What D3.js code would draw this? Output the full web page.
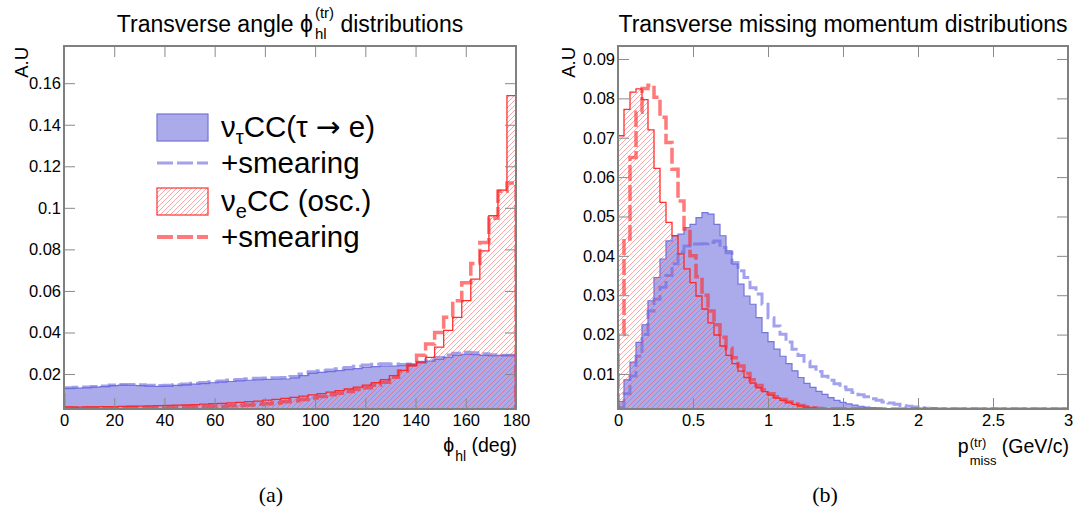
<!DOCTYPE html>
<html><head><meta charset="utf-8">
<script src="https://cdn.jsdelivr.net/npm/d3@7"></script>
<style>
html,body{margin:0;padding:0;background:#fff;}
svg{display:block;}
text{font-family:"Liberation Sans",Arial,Helvetica,sans-serif;fill:#000;}
</style></head>
<body>
<svg id="c" width="1074" height="511"></svg>
<script>
// ---------------- DATA ----------------
// Panel (a): transverse angle phi_hl, 50 bins of 3.6 deg over [0,180]
const phiRange = [0, 180];
const phiNBins = 50;
const phiTicks = [0, 20, 40, 60, 80, 100, 120, 140, 160, 180];
const phiYTicks = [0.02, 0.04, 0.06, 0.08, 0.10, 0.12, 0.14, 0.16];
const phiYRange = [0.00317, 0.1779];
const phiTau = [0.0131,0.0132,0.0134,0.0137,0.0140,0.0144,0.0147,0.0146,0.0144,0.0142,
  0.0141,0.0142,0.0145,0.0148,0.0151,0.0154,0.0158,0.0161,0.0164,0.0167,
  0.0170,0.0172,0.0174,0.0175,0.0176,0.0180,0.0192,0.0203,0.0208,0.0212,
  0.0216,0.0221,0.0226,0.0232,0.0236,0.0238,0.0238,0.0240,0.0245,0.0255,
  0.0262,0.0270,0.0280,0.0290,0.0295,0.0293,0.0290,0.0288,0.0290,0.0291];
const phiTauSmear = [0.0134,0.0136,0.0137,0.0140,0.0143,0.0147,0.0150,0.0150,0.0148,0.0146,
  0.0145,0.0146,0.0149,0.0152,0.0156,0.0159,0.0163,0.0167,0.0171,0.0174,
  0.0177,0.0180,0.0181,0.0182,0.0183,0.0188,0.0200,0.0211,0.0216,0.0220,
  0.0225,0.0231,0.0237,0.0243,0.0247,0.0249,0.0248,0.0246,0.0248,0.0257,
  0.0268,0.0280,0.0292,0.0300,0.0305,0.0303,0.0298,0.0293,0.0290,0.0290];
const phiE = [0.0042,0.0041,0.0042,0.0042,0.0043,0.0043,0.0044,0.0045,0.0046,0.0047,
  0.0048,0.0049,0.0050,0.0051,0.0053,0.0055,0.0057,0.0059,0.0061,0.0064,
  0.0067,0.0070,0.0074,0.0078,0.0083,0.0088,0.0094,0.0100,0.0106,0.0113,
  0.0120,0.0128,0.0137,0.0147,0.0158,0.0173,0.0192,0.0218,0.0240,0.0258,
  0.0280,0.0330,0.0410,0.0473,0.0553,0.0657,0.0793,0.0962,0.1085,0.1540];
const phiESmear = [0.0037,0.0037,0.0037,0.0037,0.0038,0.0038,0.0038,0.0039,0.0039,0.0039,
  0.0040,0.0040,0.0041,0.0041,0.0042,0.0043,0.0044,0.0045,0.0047,0.0049,
  0.0051,0.0054,0.0057,0.0061,0.0066,0.0071,0.0078,0.0085,0.0092,0.0100,
  0.0108,0.0116,0.0125,0.0134,0.0146,0.0160,0.0185,0.0215,0.0245,0.0290,
  0.0345,0.0400,0.0473,0.0553,0.0640,0.0732,0.0833,0.0950,0.1080,0.1120];

// Panel (b): transverse missing momentum, 75 bins of 0.04 GeV/c over [0,3]
const pRange = [0, 3];
const pNBins = 75;
const pTicks = [0, 0.5, 1, 1.5, 2, 2.5, 3];
const pYTicks = [0.01, 0.02, 0.03, 0.04, 0.05, 0.06, 0.07, 0.08, 0.09];
const pYRange = [0.0011, 0.0933];
const pTau = [0.0030,0.0085,0.0130,0.0180,0.0225,0.0286,0.0345,0.0392,0.0438,0.0451,
  0.0455,0.0472,0.0480,0.0497,0.0510,0.0506,0.0480,0.0451,0.0413,0.0379,
  0.0328,0.0298,0.0277,0.0243,0.0205,0.0182,0.0163,0.0145,0.0126,0.0108,
  0.0091,0.0076,0.0066,0.0056,0.0048,0.0040,0.0033,0.0028,0.0024,0.0021,
  0.0018,0.0016,0.0014,0.0013,0.0012,0.0011,0.0010,0.0009,0.0008,0.0007,
  0.0006,0.0005,0.0005,0.0004,0.0004,0.0003,0.0003,0.0002,0.0002,0.0002,
  0.0001,0.0001,0.0001,0.0001,0.0001,0.0001,0.0001,0.0001,0.0001,0.0001,
  0.0001,0.0001,0.0001,0.0001,0.0001];
const pTauSmear = [0.0015,0.0050,0.0095,0.0145,0.0200,0.0260,0.0290,0.0320,0.0350,0.0380,
  0.0410,0.0425,0.0430,0.0430,0.0431,0.0434,0.0438,0.0421,0.0408,0.0383,
  0.0362,0.0345,0.0319,0.0303,0.0277,0.0243,0.0222,0.0201,0.0181,0.0163,
  0.0147,0.0132,0.0118,0.0106,0.0094,0.0084,0.0075,0.0067,0.0060,0.0053,
  0.0047,0.0042,0.0037,0.0033,0.0029,0.0026,0.0023,0.0020,0.0018,0.0016,
  0.0014,0.0013,0.0012,0.0011,0.0010,0.0009,0.0008,0.0007,0.0006,0.0005,
  0.0004,0.0004,0.0003,0.0003,0.0002,0.0002,0.0002,0.0001,0.0001,0.0001,
  0.0001,0.0001,0.0001,0.0001,0.0001];
const pE = [0.0705,0.0772,0.0816,0.0824,0.0797,0.0720,0.0622,0.0536,0.0485,0.0451,
  0.0405,0.0367,0.0332,0.0298,0.0265,0.0230,0.0199,0.0171,0.0147,0.0126,
  0.0107,0.0091,0.0077,0.0065,0.0055,0.0046,0.0039,0.0033,0.0028,0.0023,
  0.0019,0.0016,0.0014,0.0012,0.0011,0.0010,0.0009,0.0008,0.0007,0.0006,
  0.0005,0.0005,0.0004,0.0004,0.0003,0.0003,0.0002,0.0002,0.0002,0.0001,
  0.0001,0.0001,0.0001,0.0001,0.0001,0.0001,0.0001,0.0001,0.0001,0.0001,
  0.0001,0.0001,0.0001,0.0001,0.0001,0.0001,0.0001,0.0001,0.0001,0.0001,
  0.0001,0.0001,0.0001,0.0001,0.0001];
const pESmear = [0.0200,0.0443,0.0650,0.0765,0.0825,0.0833,0.0803,0.0752,0.0688,0.0620,
  0.0539,0.0468,0.0400,0.0347,0.0300,0.0260,0.0225,0.0193,0.0165,0.0141,
  0.0120,0.0101,0.0085,0.0071,0.0060,0.0050,0.0042,0.0035,0.0029,0.0024,
  0.0020,0.0017,0.0014,0.0012,0.0011,0.0010,0.0009,0.0008,0.0007,0.0006,
  0.0005,0.0005,0.0004,0.0004,0.0003,0.0003,0.0002,0.0002,0.0002,0.0001,
  0.0001,0.0001,0.0001,0.0001,0.0001,0.0001,0.0001,0.0001,0.0001,0.0001,
  0.0001,0.0001,0.0001,0.0001,0.0001,0.0001,0.0001,0.0001,0.0001,0.0001,
  0.0001,0.0001,0.0001,0.0001,0.0001];

const legendLabels = [
  {kind:"fill", segs:[{t:"\u03BD"}, {sub:"\u03C4"}, {t:"CC(\u03C4\u00A0"}, {t:"\u2192", fam:"DejaVu Sans"}, {t:"\u00A0e)"}]},
  {kind:"blueLine", segs:[{t:"+smearing"}]},
  {kind:"hatch", segs:[{t:"\u03BD"}, {sub:"e"}, {t:"CC (osc.)"}]},
  {kind:"redLine", segs:[{t:"+smearing"}]}
];

// ---------------- STYLE ----------------
const C = {
  blueFill:"#ababeb", blueEdge:"#7474dc",
  blueDash:"rgba(105,105,228,0.62)",
  redLine:"rgba(255,30,30,0.92)", redDash:"rgba(255,40,40,0.62)",
  hatch:"rgba(255,70,70,0.6)", frame:"#808080", tick:"#8a8a8a"
};
const FONT = '"Liberation Sans", Arial, Helvetica, sans-serif';
const svg = d3.select("#c");
const defs = svg.append("defs");
const pat = defs.append("pattern").attr("id","hatch").attr("patternUnits","userSpaceOnUse")
  .attr("width",5).attr("height",5);
pat.append("path").attr("d","M-1,1 l2,-2 M0,5 l5,-5 M4,6 l2,-2")
  .attr("stroke",C.hatch).attr("stroke-width",0.8);

function rich(parent, x, y, anchor, segs) {
  const g = parent.append("g");
  let cx = 0;
  segs.forEach(s => {
    if (s.stack) {
      let w = 0;
      s.stack.forEach(p => {
        const t = g.append("text").attr("x", cx + (s.pad||0)).attr("y", p.dy)
          .style("font-size", p.size + "px").text(p.t);
        w = Math.max(w, t.node().getComputedTextLength());
      });
      cx += w + (s.pad||0) + (s.after||0);
    } else {
      const t = g.append("text").attr("x", cx).attr("y", s.dy || 0)
        .style("font-size", s.size + "px").text(s.t);
      if (s.fam) t.style("font-family", `"${s.fam}", sans-serif`);
      cx += t.node().getComputedTextLength();
    }
  });
  const off = anchor === "middle" ? -cx / 2 : anchor === "end" ? -cx : 0;
  g.attr("transform", `translate(${x + off},${y})`);
  return g;
}

function panel(cfg) {
  const x = d3.scaleLinear().domain(cfg.xRange).range([cfg.left, cfg.right]);
  const y = d3.scaleLinear().domain(cfg.yRange).range([cfg.bottom, cfg.top]).clamp(true);
  const w = (cfg.xRange[1] - cfg.xRange[0]) / cfg.nBins;
  const lo = cfg.yRange[0];
  const clipId = "clip" + cfg.id;
  defs.append("clipPath").attr("id", clipId).append("rect")
    .attr("x", cfg.left).attr("y", cfg.top)
    .attr("width", cfg.right - cfg.left).attr("height", cfg.bottom - cfg.top);

  const pts = vals => {
    const p = [[cfg.xRange[0], lo]];
    vals.forEach((v, i) => p.push([cfg.xRange[0] + i * w, v]));
    p.push([cfg.xRange[0] + vals.length * w, vals[vals.length - 1]]);
    p.push([cfg.xRange[0] + vals.length * w, lo]);
    return p;
  };
  const line = d3.line().x(d => x(d[0])).y(d => y(d[1])).curve(d3.curveStepAfter);
  const area = d3.area().x(d => x(d[0])).y0(y(lo)).y1(d => y(d[1])).curve(d3.curveStepAfter);

  const g = svg.append("g").attr("clip-path", `url(#${clipId})`);
  g.append("path").attr("d", area(pts(cfg.tau))).attr("fill", C.blueFill).attr("stroke", "none");
  g.append("path").attr("d", line(pts(cfg.tau))).attr("fill", "none")
    .attr("stroke", C.blueEdge).attr("stroke-width", 1.2);
  g.append("path").attr("d", line(pts(cfg.tauS))).attr("fill", "none")
    .attr("stroke", C.blueDash).attr("stroke-width", 3).attr("stroke-dasharray", "16,4");
  g.append("path").attr("d", area(pts(cfg.e))).attr("fill", "url(#hatch)").attr("stroke", "none");
  g.append("path").attr("d", line(pts(cfg.e))).attr("fill", "none")
    .attr("stroke", C.redLine).attr("stroke-width", 1.3);
  g.append("path").attr("d", line(pts(cfg.eS))).attr("fill", "none")
    .attr("stroke", C.redDash).attr("stroke-width", 3.5).attr("stroke-dasharray", "16,4");

  const styleAx = sel => {
    sel.select(".domain").remove();
    sel.selectAll(".tick line").attr("stroke", C.tick).attr("stroke-width", 1);
    sel.selectAll(".tick text").style("font-size", "16.5px").style("font-family", FONT).attr("fill", "#000");
  };
  svg.append("g").attr("transform", `translate(0,${cfg.bottom})`)
    .call(d3.axisBottom(x).tickValues(cfg.xTicks).tickSize(-11).tickPadding(5).tickFormat(d3.format("~g")))
    .call(styleAx);
  svg.append("g").attr("transform", `translate(0,${cfg.top})`)
    .call(d3.axisTop(x).tickValues(cfg.xTicks).tickSize(-11).tickFormat(""))
    .call(styleAx);
  svg.append("g").attr("transform", `translate(${cfg.left},0)`)
    .call(d3.axisLeft(y).tickValues(cfg.yTicks).tickSize(-11).tickPadding(3).tickFormat(d3.format("~g")))
    .call(styleAx);
  svg.append("g").attr("transform", `translate(${cfg.right},0)`)
    .call(d3.axisRight(y).tickValues(cfg.yTicks).tickSize(-11).tickFormat(""))
    .call(styleAx);
  svg.append("rect").attr("x", cfg.left).attr("y", cfg.top)
    .attr("width", cfg.right - cfg.left).attr("height", cfg.bottom - cfg.top)
    .attr("fill", "none").attr("stroke", C.frame).attr("stroke-width", 2);

  svg.append("text").attr("transform", `translate(${cfg.yTitleX},${cfg.top + 1}) rotate(-90)`)
    .attr("text-anchor", "end").style("font-size", "18.5px").text("A.U");
  return {x, y};
}

panel({id:"a", left:64, right:516, top:46, bottom:409, yTitleX:27.5,
  xRange:phiRange, yRange:phiYRange, nBins:phiNBins, xTicks:phiTicks, yTicks:phiYTicks,
  tau:phiTau, tauS:phiTauSmear, e:phiE, eS:phiESmear});
panel({id:"b", left:618, right:1068, top:46, bottom:409, yTitleX:574.5,
  xRange:pRange, yRange:pYRange, nBins:pNBins, xTicks:pTicks, yTicks:pYTicks,
  tau:pTau, tauS:pTauSmear, e:pE, eS:pESmear});

svg.selectAll(".tick text").each(function(){
  const t = d3.select(this);
  if (t.attr("y") && +t.attr("y") > 0) t.attr("dy", "0.71em");
  else t.attr("dy", "0.32em");
});

// titles
rich(svg, 290, 32, "middle", [
  {t:"Transverse angle \u03D5", size:23},
  {stack:[{t:"(tr)", size:15, dy:-14}, {t:"hl", size:15, dy:7}], pad:2},
  {t:"\u00A0distributions", size:23}
]);
rich(svg, 843, 32, "middle", [{t:"Transverse missing momentum distributions", size:23}]);

// x-axis titles
rich(svg, 517, 452, "end", [
  {t:"\u03D5", size:19.5},
  {stack:[{t:"hl", size:14, dy:9}], pad:1},
  {t:"\u00A0(deg)", size:19.5}
]);
rich(svg, 1069, 453, "end", [
  {t:"p", size:19.5},
  {stack:[{t:"(tr)", size:13, dy:-6}, {t:"miss", size:13, dy:12}], pad:1},
  {t:"\u00A0(GeV/c)", size:19.5}
]);

// captions
svg.append("text").attr("x", 271).attr("y", 502).attr("text-anchor","middle")
  .style("font-family",'"Liberation Serif", "DejaVu Serif", serif').style("font-size","22px").text("(a)");
svg.append("text").attr("x", 825).attr("y", 502).attr("text-anchor","middle")
  .style("font-family",'"Liberation Serif", "DejaVu Serif", serif').style("font-size","22px").text("(b)");

// legend
const legY = [127, 163, 201, 237];
const lg = svg.append("g");
legendLabels.forEach((L, i) => {
  const cy = legY[i];
  if (L.kind === "fill") {
    lg.append("rect").attr("x",157).attr("y",cy-13).attr("width",51).attr("height",27)
      .attr("fill",C.blueFill).attr("stroke",C.blueEdge).attr("stroke-width",1.2);
  } else if (L.kind === "hatch") {
    lg.append("rect").attr("x",157).attr("y",cy-13).attr("width",51).attr("height",27)
      .attr("fill","url(#hatch)").attr("stroke",C.redLine).attr("stroke-width",1.2);
  } else {
    lg.append("line").attr("x1",157).attr("x2",208).attr("y1",cy).attr("y2",cy)
      .attr("stroke", L.kind === "blueLine" ? C.blueDash : C.redDash)
      .attr("stroke-width", L.kind === "blueLine" ? 3 : 4).attr("stroke-dasharray","16,4");
  }
  const segs = L.segs.map(s => s.sub
    ? {stack:[{t:s.sub, size:20, dy:7}], pad:0}
    : {t:s.t, size:29.5, fam:s.fam});
  rich(lg, 221, cy + 10, "start", segs);
});
</script>
</body></html>
